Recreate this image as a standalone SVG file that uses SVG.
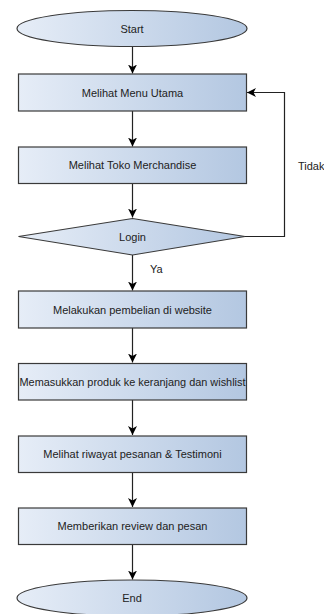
<svg xmlns="http://www.w3.org/2000/svg" width="324" height="614" viewBox="0 0 324 614">
<defs>
<linearGradient id="g" x1="0" y1="0" x2="1" y2="0">
<stop offset="0" stop-color="#e6edf7"/>
<stop offset="1" stop-color="#b3c7e1"/>
</linearGradient>
<marker id="a" markerWidth="10" markerHeight="10" refX="9" refY="5" orient="auto" markerUnits="userSpaceOnUse">
<path d="M0,0.5 L9,5 L0,9.5 L2.5,5 Z" fill="#000"/>
</marker>
<style>
.n{fill:url(#g);stroke:#3a3a3a;stroke-width:1.2}
.t{font-family:"Liberation Sans",Arial,sans-serif;font-size:11px;fill:#222;text-anchor:middle;dominant-baseline:central}
.c{fill:none;stroke:#222;stroke-width:1.2;marker-end:url(#a)}
.l{font-family:"Liberation Sans",Arial,sans-serif;font-size:11px;fill:#222}
</style>
</defs>
<rect width="324" height="614" fill="#fff"/>
<g id="connectors">
<path class="c" d="M132.5,46.5 V73.5"/>
<path class="c" d="M132.5,111 V146.5"/>
<path class="c" d="M132.5,183.5 V217.5"/>
<path class="c" d="M132.5,255 V290.5"/>
<path class="c" d="M132.5,328 V362.5"/>
<path class="c" d="M132.5,400 V435"/>
<path class="c" d="M132.5,472.5 V507"/>
<path class="c" d="M132.5,544.5 V579.5"/>
<path class="c" d="M245,236.5 H284.5 V92.5 H247"/>
<text class="l" x="150" y="273">Ya</text>
<text class="l" x="298" y="170">Tidak</text>
</g>
<g id="start"><ellipse class="n" cx="132" cy="28.5" rx="115" ry="18"/><text class="t" x="132" y="28.5">Start</text></g>
<g id="menu"><rect class="n" x="18.5" y="74" width="228" height="37"/><text class="t" x="132.5" y="92.5">Melihat Menu Utama</text></g>
<g id="toko"><rect class="n" x="18.5" y="147" width="228" height="36.5"/><text class="t" x="132.5" y="165">Melihat Toko Merchandise</text></g>
<g id="login"><polygon class="n" points="132.5,218.5 245,236.5 132.5,255 18.5,236.5"/><text class="t" x="132.5" y="237">Login</text></g>
<g id="beli"><rect class="n" x="18.5" y="291" width="228" height="37"/><text class="t" x="132.5" y="309.5">Melakukan pembelian di website</text></g>
<g id="keranjang"><rect class="n" x="18.5" y="363.5" width="228" height="36.5"/><text class="t" x="132.5" y="382" textLength="226" lengthAdjust="spacingAndGlyphs">Memasukkan produk ke keranjang dan wishlist</text></g>
<g id="riwayat"><rect class="n" x="18.5" y="436" width="228" height="36.5"/><text class="t" x="132.5" y="454">Melihat riwayat pesanan &amp; Testimoni</text></g>
<g id="review"><rect class="n" x="18.5" y="508" width="228" height="36.5"/><text class="t" x="132.5" y="526">Memberikan review dan pesan</text></g>
<g id="end"><ellipse class="n" cx="132" cy="598" rx="115" ry="18"/><text class="t" x="132" y="598">End</text></g>
</svg>
